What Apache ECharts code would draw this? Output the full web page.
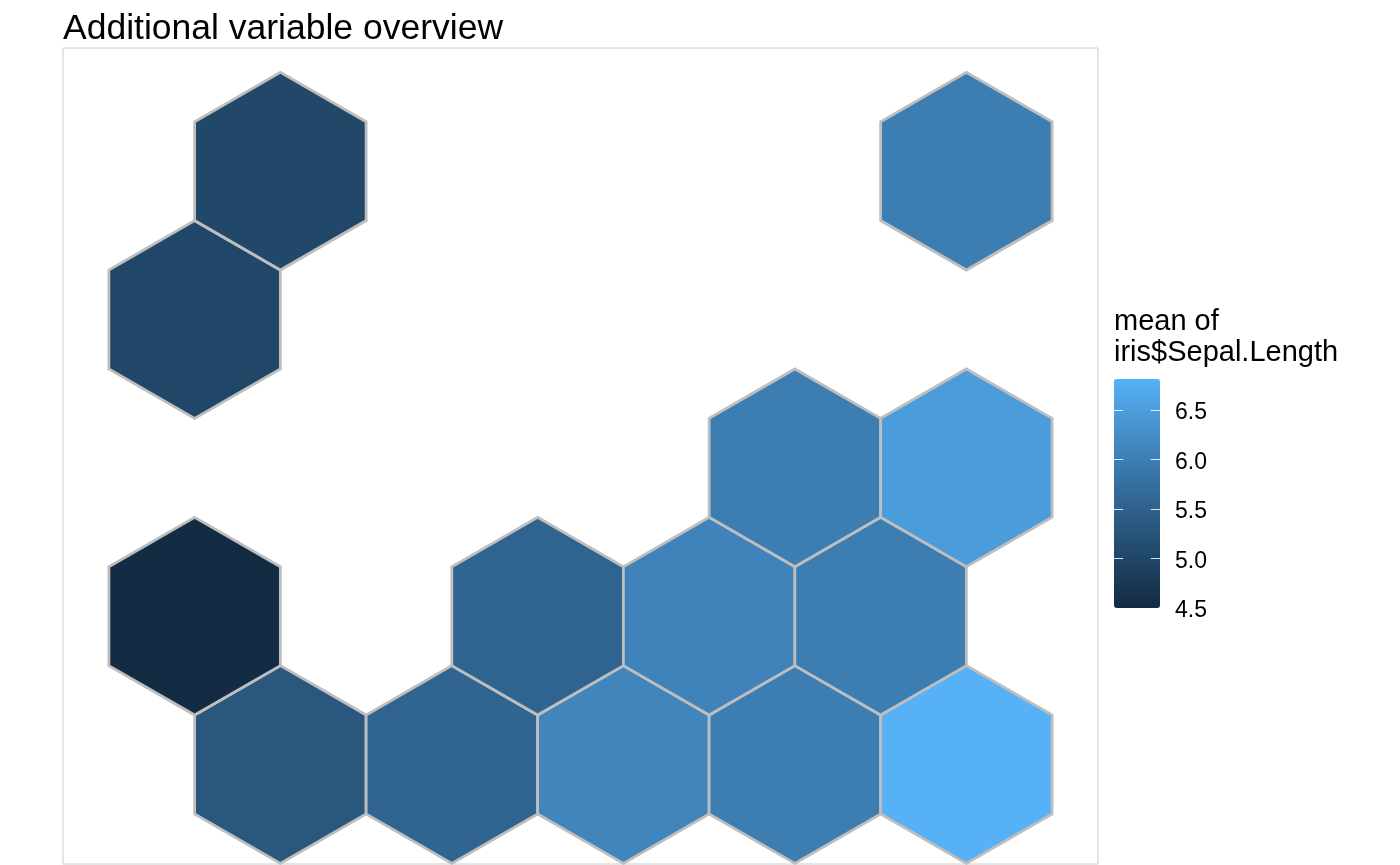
<!DOCTYPE html>
<html>
<head>
<meta charset="utf-8">
<script src="https://cdn.jsdelivr.net/npm/echarts@6/dist/echarts.min.js"></script>
<style>
html,body{margin:0;padding:0;background:#fff;}
#chart{width:1400px;height:865px;}
</style>
</head>
<body>
<div id="chart"></div>
<script>
// SOM hex grid cells (column index, row index) and mean of iris$Sepal.Length per cell
const colIndex = [0, 1, 2, 3, 4, 0, 2, 3, 4, 3, 4, 0, 0, 4];
const rowIndex = [0, 0, 0, 0, 0, 1, 1, 1, 1, 2, 2, 3, 4, 4];
const meanSepalLength = [5.31, 5.57, 6.10, 5.97, 6.81, 4.50, 5.55, 6.07, 5.97, 5.97, 6.47, 5.02, 5.03, 5.97];
const legendTicks = [4.5, 5.0, 5.5, 6.0, 6.5];
const colorMin = 4.5;
const colorMax = 6.81;

const SQ3 = Math.sqrt(3);
const hexData = colIndex.map((c, k) => {
  const r = rowIndex[k];
  const x = c + (r % 2 === 0 ? 0.5 : 0);
  const y = r * SQ3 / 2;
  return [x, y, meanSepalLength[k]];
});

const FONT = 'Liberation Sans, Arial, sans-serif';
const chart = echarts.init(document.getElementById('chart'), null, {renderer: 'canvas'});

function renderHex(params, api) {
  const cx = api.value(0), cy = api.value(1);
  const rad = 1 / SQ3;
  const pts = [];
  for (let k = 0; k < 6; k++) {
    const a = Math.PI / 180 * (30 + 60 * k);
    pts.push(api.coord([cx + rad * Math.cos(a), cy + rad * Math.sin(a)]));
  }
  return {
    type: 'polygon',
    shape: {points: pts},
    style: {fill: api.visual('color'), stroke: '#BEBEBE', lineWidth: 2.8, lineJoin: 'miter'}
  };
}

// legend colourbar ticks (white, inside both edges, 1/5 of bar width)
function renderLegendTick(params, api) {
  const v = api.value(0);
  const l = api.coord([0, v]);
  const r = api.coord([1, v]);
  const len = (r[0] - l[0]) / 5;
  const y = Math.round(l[1]) + 0.5;
  const st = {stroke: 'rgba(255,255,255,0.85)', lineWidth: 1};
  return {
    type: 'group',
    children: [
      {type: 'line', shape: {x1: l[0], y1: y, x2: l[0] + len, y2: y}, style: st},
      {type: 'line', shape: {x1: r[0] - len, y1: y, x2: r[0], y2: y}, style: st}
    ]
  };
}

chart.setOption({
  animation: false,
  backgroundColor: '#ffffff',
  title: [
    {text: 'Additional variable overview', left: 63, top: 11, padding: 0,
     textStyle: {fontFamily: FONT, fontSize: 35.5, fontWeight: 'normal', color: '#000'}},
    {text: 'mean of\niris$Sepal.Length', left: 1114, top: 306, padding: 0,
     textStyle: {fontFamily: FONT, fontSize: 29, fontWeight: 'normal', color: '#000', lineHeight: 31}}
  ],
  grid: [
    {left: 63, right: 302, top: 48, bottom: 1, show: true, borderColor: '#CCCCCC', borderWidth: 1, backgroundColor: '#fff'},
    {left: 1114, top: 379, width: 46, height: 229, show: false}
  ],
  xAxis: [
    {type: 'value', gridIndex: 0, min: -0.7675, max: 5.2675, show: false},
    {type: 'value', gridIndex: 1, min: 0, max: 1, show: false}
  ],
  yAxis: [
    {type: 'value', gridIndex: 0, min: -0.581, max: 4.183, show: false},
    {type: 'value', gridIndex: 1, min: colorMin, max: colorMax, position: 'right', z: 10,
     axisLine: {show: false}, splitLine: {show: false}, axisTick: {show: false},
     axisLabel: {show: true, margin: 15, fontFamily: FONT, fontSize: 23, color: '#000', customValues: legendTicks,
                 formatter: v => '{t|' + Number(v).toFixed(1) + '}',
                 rich: {t: {fontFamily: FONT, fontSize: 23, color: '#000', padding: [6, 0, 0, 0]}}}}
  ],
  visualMap: {
    type: 'continuous', seriesIndex: 0, dimension: 2,
    min: colorMin, max: colorMax, calculable: false, realtime: false,
    left: 1114, top: 379, itemWidth: 46, itemHeight: 229, padding: 0,
    text: null, showLabel: false, orient: 'vertical',
    inRange: {color: ['#132B43', '#224A6C', '#336A98', '#448DC7', '#56B1F7']}
  },
  series: [
    {type: 'custom', xAxisIndex: 0, yAxisIndex: 0, renderItem: renderHex,
     encode: {x: 0, y: 1}, data: hexData, clip: false},
    {type: 'custom', xAxisIndex: 1, yAxisIndex: 1, renderItem: renderLegendTick, z: 20,
     encode: {y: 0}, data: legendTicks.map(v => [v]), clip: false, silent: true}
  ]
});
</script>
</body>
</html>
